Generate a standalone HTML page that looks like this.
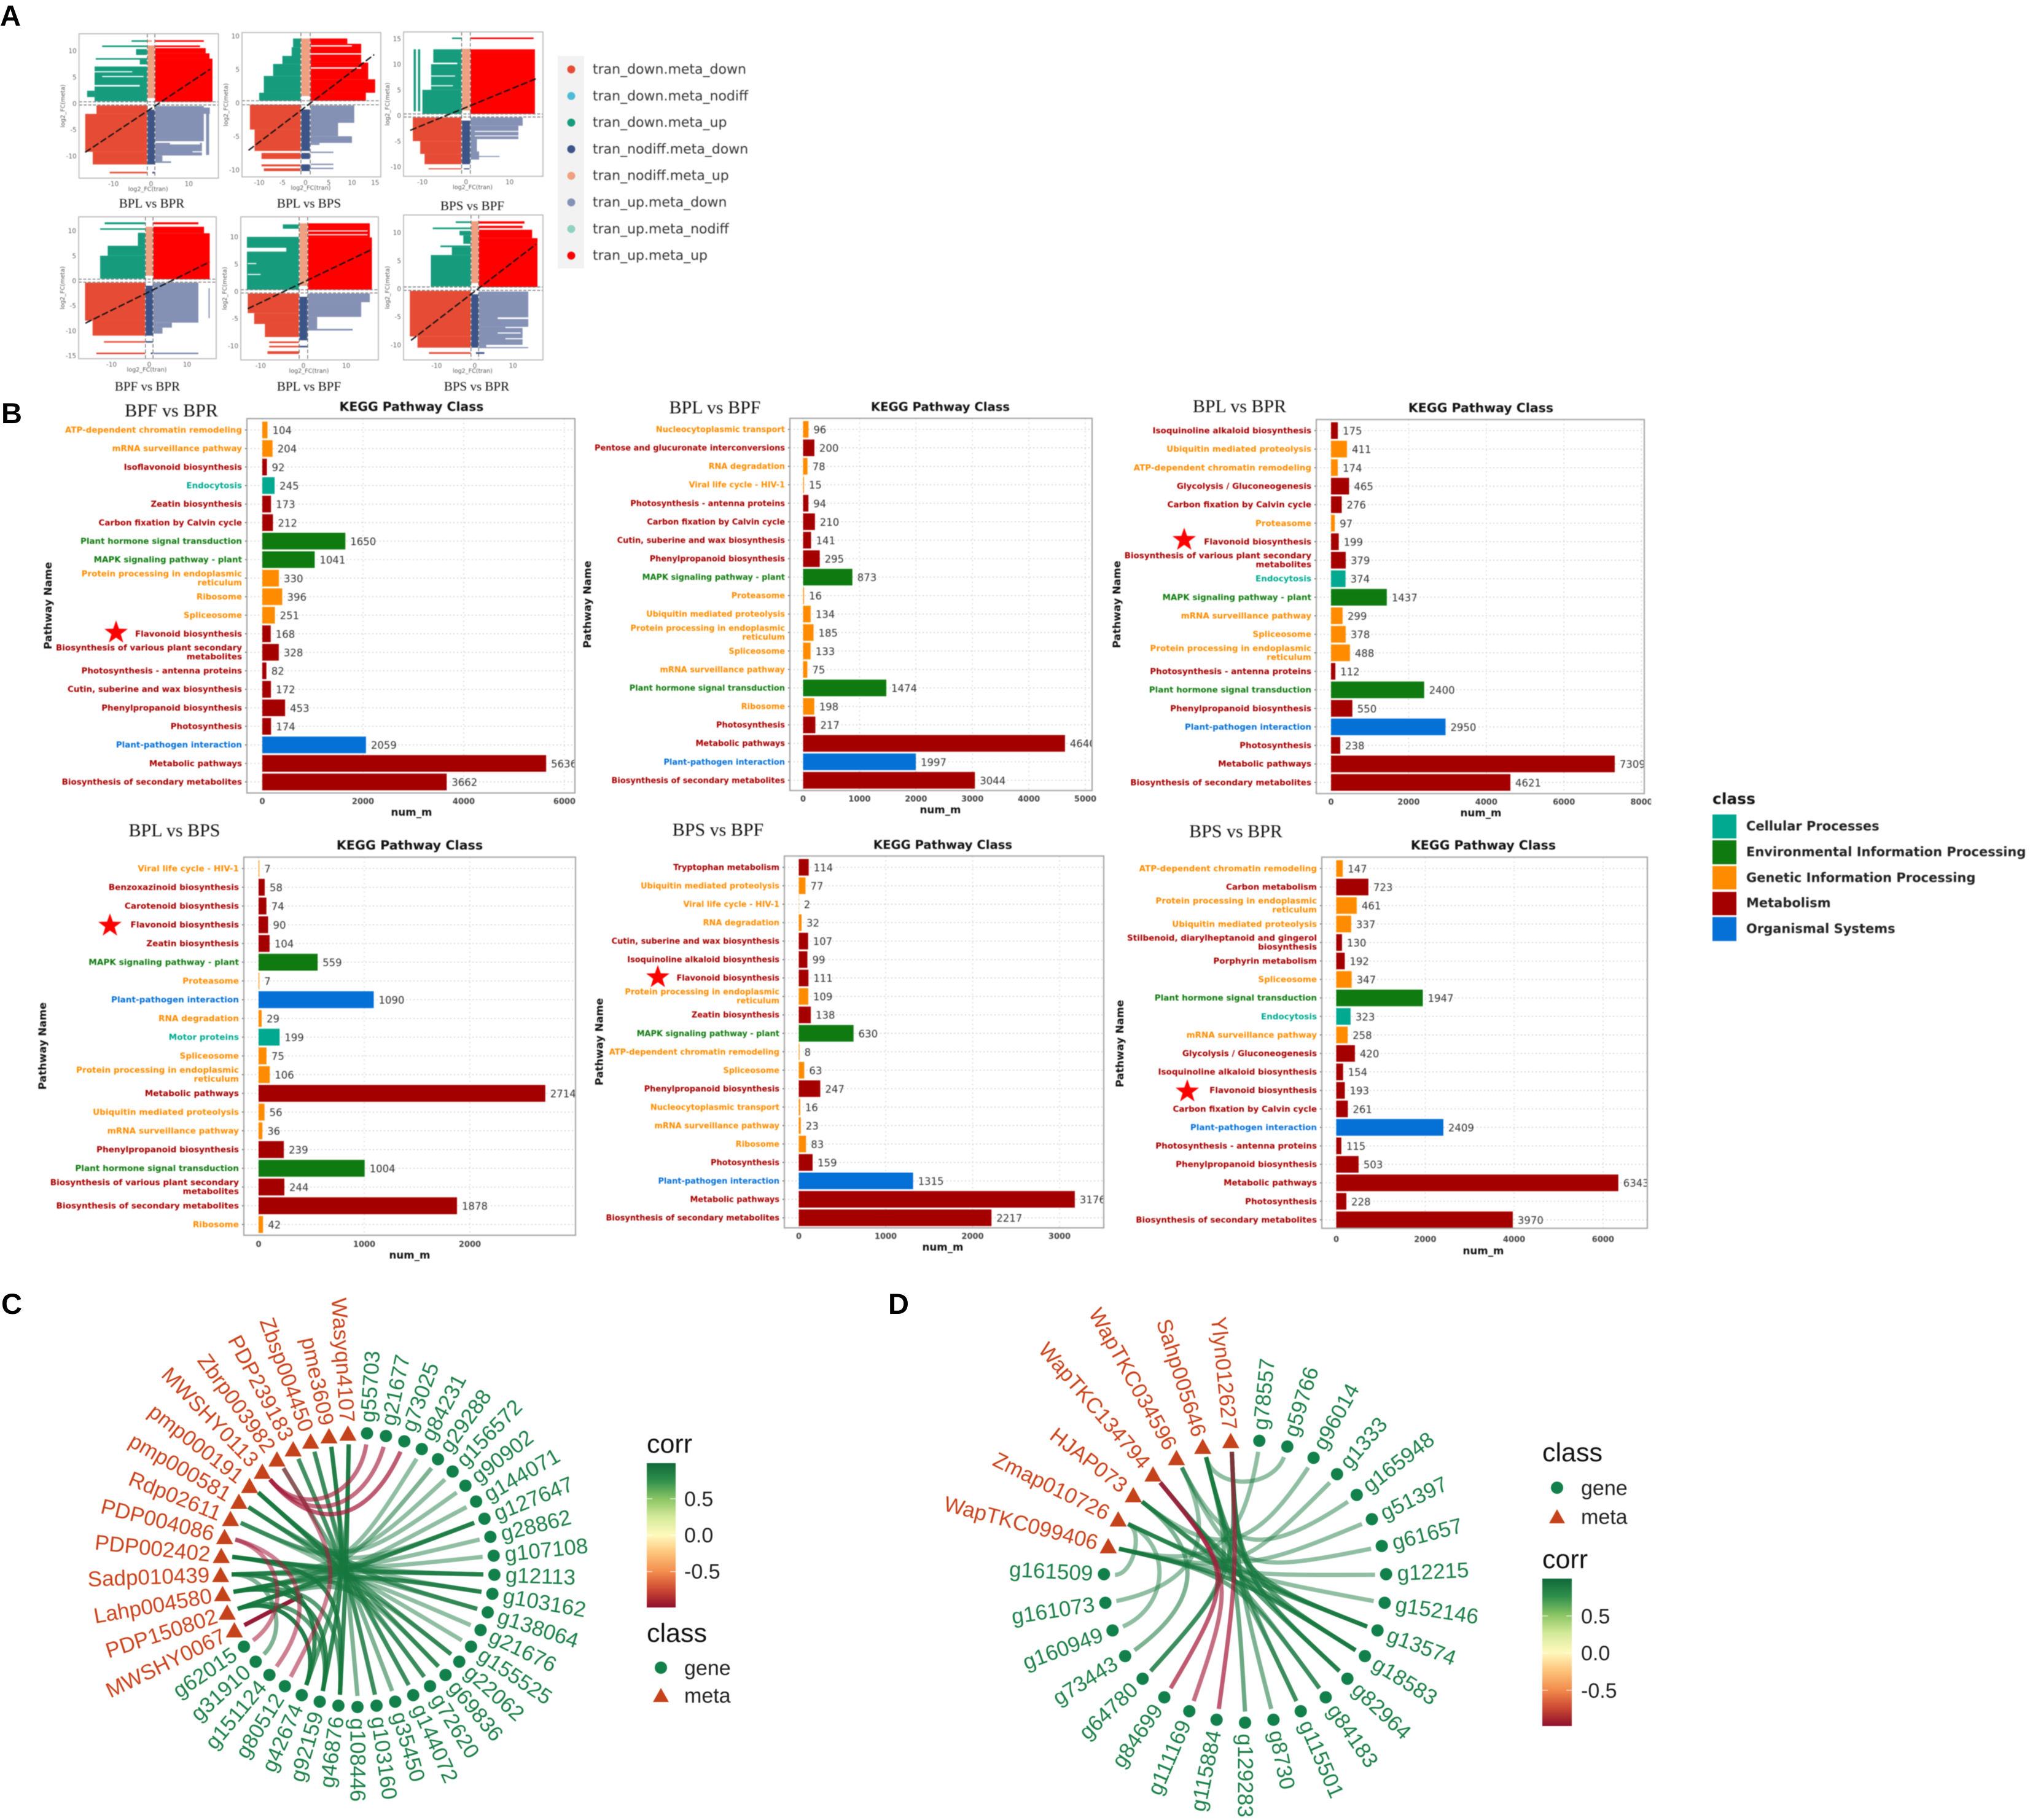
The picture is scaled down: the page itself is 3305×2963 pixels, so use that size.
<!DOCTYPE html>
<html lang="en"><head><meta charset="utf-8"><title>Transcriptome and metabolome association figure</title>
<style>
html,body{margin:0;padding:0;background:#fff}
svg{display:block}
.sans{font-family:"Liberation Sans",sans-serif}
.deja{font-family:"DejaVu Sans",sans-serif}
.serif{font-family:"Liberation Serif",serif}
#panel-a,#panel-b,#kegg-legend{filter:blur(0.9px)}
#panel-c,#panel-d{filter:blur(0.5px)}
</style></head>
<body>
<svg id="fig" xmlns="http://www.w3.org/2000/svg" width="3305" height="2963" viewBox="0 0 3305 2963">
<defs>
<linearGradient id="corr-grad" x1="0" y1="0" x2="0" y2="1">
<stop offset="0" stop-color="#11693a"/><stop offset=".12" stop-color="#2f8f4c"/><stop offset=".25" stop-color="#8cc665"/><stop offset=".37" stop-color="#d3e99a"/><stop offset=".5" stop-color="#fff9bd"/><stop offset=".62" stop-color="#fdc57c"/><stop offset=".75" stop-color="#f38e4e"/><stop offset=".87" stop-color="#cf4d34"/><stop offset="1" stop-color="#8f0f2c"/>
</linearGradient>
</defs>
<rect width="3305" height="2963" fill="#fff"/>
<g class="sans" font-weight="700" font-size="47" fill="#000">
<text x="0" y="42">A</text>
<text x="2" y="689">B</text>
<text x="2" y="2139">C</text>
<text x="1446" y="2139">D</text>
</g>
<g id="panel-a"></g>
<g id="panel-b"></g>
<g id="kegg-legend" class="deja" font-weight="700">
<text x="2788" y="1309" font-size="25" fill="#111">class</text>
<rect x="2788" y="1326" width="39" height="39" fill="#00a98f"/>
<rect x="2788" y="1368" width="39" height="39" fill="#0f7a0f"/>
<rect x="2788" y="1410" width="39" height="38" fill="#ff8c00"/>
<rect x="2788" y="1452" width="39" height="38" fill="#a50000"/>
<rect x="2788" y="1493" width="39" height="39" fill="#0570d6"/>
<g font-size="21" fill="#222">
<text x="2843" y="1352">Cellular Processes</text>
<text x="2843" y="1394">Environmental Information Processing</text>
<text x="2843" y="1436">Genetic Information Processing</text>
<text x="2843" y="1477">Metabolism</text>
<text x="2843" y="1519">Organismal Systems</text>
</g></g>
<g id="panel-c" class="sans">
<text x="1053" y="2365" font-size="43" fill="#111">corr</text>
<rect x="1053" y="2382" width="47" height="235" fill="url(#corr-grad)"/>
<g stroke="#fff" stroke-width="1.5" opacity=".7"><path d="M1053 2440h9M1091 2440h9M1053 2499.5h9M1091 2499.5h9M1053 2558.6h9M1091 2558.6h9"/></g>
<g font-size="34" fill="#222"><text x="1114" y="2452">0.5</text><text x="1114" y="2511">0.0</text><text x="1114" y="2570">-0.5</text></g>
<text x="1053" y="2673" font-size="43" fill="#111">class</text>
<circle cx="1076" cy="2715" r="10" fill="#12804a"/>
<text x="1114" y="2727" font-size="34" fill="#222">gene</text>
<path d="M1076 2748l13 23h-26z" fill="#c5431a"/>
<text x="1114" y="2772" font-size="34" fill="#222">meta</text>
</g>
<g id="panel-d" class="sans">
<text x="2511" y="2379" font-size="43" fill="#111">class</text>
<circle cx="2535" cy="2422" r="10" fill="#12804a"/>
<text x="2574" y="2434" font-size="34" fill="#222">gene</text>
<path d="M2535 2457l13 23h-26z" fill="#c5431a"/>
<text x="2574" y="2481" font-size="34" fill="#222">meta</text>
<text x="2511" y="2553" font-size="43" fill="#111">corr</text>
<rect x="2511" y="2570" width="48" height="240" fill="url(#corr-grad)"/>
<g stroke="#fff" stroke-width="1.5" opacity=".7"><path d="M2511 2630.7h9M2550 2630.7h9M2511 2691.5h9M2550 2691.5h9M2511 2751.7h9M2550 2751.7h9"/></g>
<g font-size="34" fill="#222"><text x="2574" y="2643">0.5</text><text x="2574" y="2703">0.0</text><text x="2574" y="2764">-0.5</text></g>
</g>
</svg>
<script>
/* ---------- Panel A data: quadrant bands [class, xFrom, xTo, yFrom, yTo] in log2FC units ---------- */
const quadrantLabels = ['tran_down.meta_down','tran_down.meta_nodiff','tran_down.meta_up','tran_nodiff.meta_down','tran_nodiff.meta_up','tran_up.meta_down','tran_up.meta_nodiff','tran_up.meta_up'];
const quadrantColors = ['#E64B35','#4DBBD5','#169b7d','#3C5488','#EFA080','#8491B4','#91D1C2','#FF0000'];
const bandBplBpr = [
['uu',1.1,14,11.7,12],['uu',1.1,13,10.7,11],['uu',1.1,14.5,9.5,10.5],['uu',1.1,15.5,8.5,9.5],['uu',1.1,16.3,0.3,8.5],
['du',-5.2,-1.1,11.7,12],['du',-13,-1.1,10.7,11],['du',-4,-1.1,9.2,10.3],['du',-14.7,-1.1,8.3,8.6],['du',-3,-1.1,7.4,8.3],['du',-15,-1.1,0.4,7],['du',-17,-15,1.2,2.4],
['nu',-0.9,0.9,1,11],['nu',-0.9,0.2,11.7,12],
['dd',-14.5,-1.1,-2,-0.4],['dd',-17.5,-1.1,-9.2,-2],['dd',-15.5,-1.1,-11.6,-9.2],['dd',-11,-1.1,-13.3,-13],
['nd',-0.9,0.9,-11.6,-1.2],['nd',0.3,0.9,-13.3,-13],
['ud',1.1,14,-7.2,-0.5],['ud',1.1,15.6,-2,-0.8],['ud',1.1,13.5,-9.9,-7.5],['ud',1.1,3,-11,-9.9],['ud',1.1,5.3,-11.3,-11],['ud',14.6,15.4,-9.8,-1],
['gap',-15,-5,5.9,6.1],['gap',-15,-3,3.2,3.5],['gap',-13,-2,5,5.2],['gap',5,13,-7.8,-7.5],['gap',11,14,-9.3,-9.1]];
const bandBplBps = [
['uu',1.1,9,8.8,9.6],['uu',1.1,12,6,8.8],['uu',1.1,13.5,3.5,6],['uu',1.1,15,1.5,3.5],['uu',1.1,13,0.3,1.5],
['du',-2.7,-1.1,8.3,9.6],['du',-3,-1.1,7,8.3],['du',-5,-1.1,5.8,7],['du',-7,-1.1,4,5.8],['du',-9,-1.1,1.5,4],['du',-10,-1.1,0.3,1.5],
['nu',-0.9,0.9,1,9.6],
['dd',-12,-1.1,-4,-0.3],['dd',-11,-1.1,-7.2,-4],['dd',-9.5,-1.1,-8.4,-7.5],['dd',-9.5,-1.1,-9.5,-9.2],['dd',-9,-1.1,-10.2,-9.8],
['nd',-0.9,0.9,-7.2,-1],['nd',-0.9,0.9,-8.4,-7.5],['nd',-0.9,0.9,-10.2,-9.2],
['ud',1.1,10.5,-3,-0.4],['ud',1.1,7,-5,-3],['ud',1.1,10,-6,-5],['ud',1.1,3,-6.3,-6],['ud',1.1,6,-7.5,-7.3],['ud',1.1,6,-9.3,-9.1],['ud',1.1,6,-9.9,-9.7],
['gap',1.1,12,5.1,5.3],['gap',1.1,12,7.2,7.4],['gap',1.1,10,8.4,8.6]];
const bandBpsBpf = [
['uu',1.1,15.5,14.9,15.2],['uu',1.1,15.8,0.3,12.9],
['du',-3.2,-1.1,14.9,15.2],['du',-7.5,-1.1,10.2,12.9],['du',-8,-1.1,5,10.2],['du',-10,-1.1,0.3,5],['du',-12,-11.5,0.8,12.9],['du',-11,-10.5,0.8,12.9],
['nu',-0.9,0.9,1,13],
['dd',-12.2,-1.1,-5,-0.4],['dd',-10.5,-1.1,-7.5,-5],['dd',-9.5,-1.1,-9.5,-7.5],['dd',-8.6,-1.1,-10.5,-10.3],
['nd',-0.9,0.9,-9.5,-1],['nd',-0.5,0.8,-10.5,-10.3],
['ud',1.1,13,-2,-0.4],['ud',1.1,12,-4.6,-2],['ud',1.1,2.5,-7,-4.6],['ud',1.1,7.7,-8.1,-7.9],['ud',1.1,3,-8.6,-7],
['gap',-8,-2,10,10.3],['gap',-8,-2.5,7.6,7.8],['gap',-8,-3,5.7,5.9],['gap',2,12,-3.2,-3],['gap',2,12,-4,-3.9]];
const bandBpfBpr = [
['uu',1.1,13,11.3,11.7],['uu',1.1,14.5,9.5,10.8],['uu',1.1,16,0.3,9.5],
['du',-11.8,-1.1,11.3,11.7],['du',-13,-1.1,10.2,10.5],['du',-3,-1.1,7,9.6],['du',-11,-1.1,5,7],['du',-13,-1.1,0.4,5],
['nu',-0.9,0.9,1,10.8],
['dd',-17,-1.1,-8,-0.4],['dd',-15,-1.1,-11,-8],['dd',-12,-1.1,-12.4,-12.1],['dd',-14,-1.1,-14.7,-14.4],
['nd',-0.9,0.9,-11,-1],['nd',-0.9,0.9,-12.4,-12.1],['nd',0.4,0.9,-14.7,-14.4],
['ud',1.1,13,-8.4,-0.4],['ud',1.1,6,-9.4,-8.4],['ud',1.1,3.5,-10.6,-9.4],['ud',1.1,13,-14.7,-14.4],['ud',15.7,16,-7.5,-1.5]];
const bandBplBpf = [
['uu',1.1,15.5,9.9,12.5],['uu',1.1,16,0.3,9.9],
['du',-4.8,-1.1,11.5,12.3],['du',-13.2,-1.1,0.3,10],
['nu',-0.9,0.9,1,12.5],
['dd',-13,-1.1,-4,-0.4],['dd',-11.5,-1.1,-6,-4],['dd',-9,-1.1,-8.4,-6],['dd',-8,-1.1,-9.5,-9.2],['dd',-8,-1.1,-10.3,-10],['dd',-8.4,-1.1,-11.5,-11],
['nd',-0.9,0.9,-9,-1],['nd',-0.9,0.9,-10.3,-10],
['ud',1.1,15.5,-2,-0.4],['ud',1.1,13.5,-4.7,-2],['ud',1.1,3.2,-7,-4.7],['ud',1.1,11.5,-7.2,-6.9],
['gap',1.1,15,11,11.2],['gap',1.1,15,10.3,10.5],['gap',-13.2,-4,7.3,8],['gap',-13,-10,3,3.2],['gap',-13,-11,5,5.2]];
const bandBpsBpr = [
['uu',1.1,13,11.6,12],['uu',1.1,12.5,10.8,11.2],['uu',1.1,15,9,10.5],['uu',1.1,16.4,0.3,9],
['du',-5,-1.1,11.7,12],['du',-11,-1.1,10.6,10.9],['du',-4,-1.1,9.5,10.3],['du',-3,-1.1,8,9.5],['du',-9,-1.1,7.4,7.7],['du',-6,-1.1,6,7.4],['du',-11.5,-1.1,0.4,6],
['nu',-0.9,0.9,1,12],
['dd',-17,-1.1,-8.5,-0.4],['dd',-15,-1.1,-10.5,-8.5],['dd',-12,-1.1,-11.6,-11.3],
['nd',-0.9,0.9,-10.5,-1],['nd',0.3,2.5,-11.6,-11.3],
['ud',1.1,14,-6.8,-0.5],['ud',1.1,12.5,-10,-6.8],['ud',1.1,3,-10.5,-10],['ud',1.1,14,-10.6,-10.4],
['gap',6,14,-5.4,-5.1],['gap',8,14,-7,-6.8],['gap',6,12,-8,-7.8],['gap',8,13,-9,-8.8]];
const titlesA = ['BPL vs BPR','BPL vs BPS','BPS vs BPF','BPF vs BPR','BPL vs BPF','BPS vs BPR'];
const xTicksA = [[-10,0,10],[-10,-5,0,5,10,15],[-10,0,10],[-10,0,10],[-10,0,10],[-10,0,10]];
const yTicksA = [[-10,-5,0,5,10],[-10,-5,0,5,10],[-10,-5,0,5,10,15],[-15,-10,-5,0,5,10],[-10,-5,0,5,10],[-10,-5,0,5,10]];
const diagonalsA = [[-17.5,-9.3,15.7,6.5],[-12.3,-7.1,14.8,7.2],[-12.8,-2.9,16,7.15],[-16.9,-8.5,16,3.76],[-13,-3.2,16,7.7],[-16.7,-9.2,16,7.9]];

/* ---------- Panel B data ---------- */
const bpfBprCategories = ['ATP-dependent chromatin remodeling','mRNA surveillance pathway','Isoflavonoid biosynthesis','Endocytosis','Zeatin biosynthesis','Carbon fixation by Calvin cycle','Plant hormone signal transduction','MAPK signaling pathway - plant','Protein processing in endoplasmic|reticulum','Ribosome','Spliceosome','Flavonoid biosynthesis','Biosynthesis of various plant secondary|metabolites','Photosynthesis - antenna proteins','Cutin, suberine and wax biosynthesis','Phenylpropanoid biosynthesis','Photosynthesis','Plant-pathogen interaction','Metabolic pathways','Biosynthesis of secondary metabolites'];
const bpfBprValues = [104,204,92,245,173,212,1650,1041,330,396,251,168,328,82,172,453,174,2059,5636,3662];
const bpfBprClasses = 'GGMCMMEEGGGMMMMMMOMM';
const bpfBprTicks = [0,2000,4000,6000];
const bplBpfCategories = ['Nucleocytoplasmic transport','Pentose and glucuronate interconversions','RNA degradation','Viral life cycle - HIV-1','Photosynthesis - antenna proteins','Carbon fixation by Calvin cycle','Cutin, suberine and wax biosynthesis','Phenylpropanoid biosynthesis','MAPK signaling pathway - plant','Proteasome','Ubiquitin mediated proteolysis','Protein processing in endoplasmic|reticulum','Spliceosome','mRNA surveillance pathway','Plant hormone signal transduction','Ribosome','Photosynthesis','Metabolic pathways','Plant-pathogen interaction','Biosynthesis of secondary metabolites'];
const bplBpfValues = [96,200,78,15,94,210,141,295,873,16,134,185,133,75,1474,198,217,4640,1997,3044];
const bplBpfClasses = 'GMGGMMMMEGGGGGEGMMOM';
const bplBpfTicks = [0,1000,2000,3000,4000,5000];
const bplBprCategories = ['Isoquinoline alkaloid biosynthesis','Ubiquitin mediated proteolysis','ATP-dependent chromatin remodeling','Glycolysis / Gluconeogenesis','Carbon fixation by Calvin cycle','Proteasome','Flavonoid biosynthesis','Biosynthesis of various plant secondary|metabolites','Endocytosis','MAPK signaling pathway - plant','mRNA surveillance pathway','Spliceosome','Protein processing in endoplasmic|reticulum','Photosynthesis - antenna proteins','Plant hormone signal transduction','Phenylpropanoid biosynthesis','Plant-pathogen interaction','Photosynthesis','Metabolic pathways','Biosynthesis of secondary metabolites'];
const bplBprValues = [175,411,174,465,276,97,199,379,374,1437,299,378,488,112,2400,550,2950,238,7309,4621];
const bplBprClasses = 'MGGMMGMMCEGGGMEMOMMM';
const bplBprTicks = [0,2000,4000,6000,8000];
const bplBpsCategories = ['Viral life cycle - HIV-1','Benzoxazinoid biosynthesis','Carotenoid biosynthesis','Flavonoid biosynthesis','Zeatin biosynthesis','MAPK signaling pathway - plant','Proteasome','Plant-pathogen interaction','RNA degradation','Motor proteins','Spliceosome','Protein processing in endoplasmic|reticulum','Metabolic pathways','Ubiquitin mediated proteolysis','mRNA surveillance pathway','Phenylpropanoid biosynthesis','Plant hormone signal transduction','Biosynthesis of various plant secondary|metabolites','Biosynthesis of secondary metabolites','Ribosome'];
const bplBpsValues = [7,58,74,90,104,559,7,1090,29,199,75,106,2714,56,36,239,1004,244,1878,42];
const bplBpsClasses = 'GMMMMEGOGCGGMGGMEMMG';
const bplBpsTicks = [0,1000,2000];
const bpsBpfCategories = ['Tryptophan metabolism','Ubiquitin mediated proteolysis','Viral life cycle - HIV-1','RNA degradation','Cutin, suberine and wax biosynthesis','Isoquinoline alkaloid biosynthesis','Flavonoid biosynthesis','Protein processing in endoplasmic|reticulum','Zeatin biosynthesis','MAPK signaling pathway - plant','ATP-dependent chromatin remodeling','Spliceosome','Phenylpropanoid biosynthesis','Nucleocytoplasmic transport','mRNA surveillance pathway','Ribosome','Photosynthesis','Plant-pathogen interaction','Metabolic pathways','Biosynthesis of secondary metabolites'];
const bpsBpfValues = [114,77,2,32,107,99,111,109,138,630,8,63,247,16,23,83,159,1315,3176,2217];
const bpsBpfClasses = 'MGGGMMMGMEGGMGGGMOMM';
const bpsBpfTicks = [0,1000,2000,3000];
const bpsBprCategories = ['ATP-dependent chromatin remodeling','Carbon metabolism','Protein processing in endoplasmic|reticulum','Ubiquitin mediated proteolysis','Stilbenoid, diarylheptanoid and gingerol|biosynthesis','Porphyrin metabolism','Spliceosome','Plant hormone signal transduction','Endocytosis','mRNA surveillance pathway','Glycolysis / Gluconeogenesis','Isoquinoline alkaloid biosynthesis','Flavonoid biosynthesis','Carbon fixation by Calvin cycle','Plant-pathogen interaction','Photosynthesis - antenna proteins','Phenylpropanoid biosynthesis','Metabolic pathways','Photosynthesis','Biosynthesis of secondary metabolites'];
const bpsBprValues = [147,723,461,337,130,192,347,1947,323,258,420,154,193,261,2409,115,503,6343,228,3970];
const bpsBprClasses = 'GMGGMMGECGMMMMOMMMMM';
const bpsBprTicks = [0,2000,4000,6000];

/* ---------- Panels C and D data ---------- */
const genesC = ['g55703','g21677','g73025','g84231','g29288','g156572','g90902','g144071','g127647','g28862','g107108','g12113','g103162','g138064','g21676','g155525','g22062','g69836','g72620','g144072','g35450','g103160','g108446','g46876','g92159','g42674','g80512','g151124','g31910','g62015'];
const metasC = ['MWSHY0067','PDP150802','Lahp004580','Sadp010439','PDP002402','PDP004086','Rdp02611','pmp000581','pmp000191','MWSHY0113','Zbrp003982','PDP239183','Zbsp004450','pme3609','Wasyqn4107'];
const edgeGeneC = ['g107108','g84231','g29288','g156572','g90902','g144071','g127647','g28862','g107108','g12113','g103162','g138064','g21676','g155525','g22062','g69836','g72620','g144072','g35450','g103160','g108446','g46876','g92159','g42674','g31910','g92159','g42674','g46876','g127647','g12113','g103162','g138064','g22062','g69836','g72620','g144072','g103160','g46876','g92159','g42674','g127647','g12113','g103162','g55703','g21677','g73025','g80512','g151124','g62015'];
const edgeMetaC = ['MWSHY0067','Sadp010439','Lahp004580','Rdp02611','pmp000581','PDP150802','PDP150802','Sadp010439','PDP002402','PDP002402','Lahp004580','pmp000191','PDP002402','Rdp02611','pmp000581','pmp000191','pmp000191','Zbrp003982','PDP239183','Zbsp004450','pme3609','Wasyqn4107','pme3609','PDP150802','Sadp010439','Lahp004580','Sadp010439','PDP002402','Lahp004580','Sadp010439','PDP150802','PDP002402','Lahp004580','PDP150802','Sadp010439','Zbsp004450','PDP239183','Lahp004580','PDP150802','Wasyqn4107','Rdp02611','pmp000581','pmp000191','MWSHY0113','MWSHY0113','MWSHY0113','Zbrp003982','PDP004086','PDP004086'];
const edgeCorrC = [-0.95,0.65,0.7,0.65,0.65,0.65,0.85,0.65,0.65,0.85,0.8,0.8,0.65,0.65,0.8,0.8,0.75,0.75,0.7,0.75,0.7,0.9,0.9,0.95,0.7,0.9,0.9,0.9,0.7,0.7,0.7,0.7,0.7,0.7,0.7,0.7,0.7,0.8,0.8,0.8,0.65,0.65,0.65,-0.75,-0.75,-0.8,-0.7,-0.7,-0.7];
const genesD = ['g78557','g59766','g96014','g1333','g165948','g51397','g61657','g12215','g152146','g13574','g18583','g82964','g84183','g115501','g8730','g129283','g115884','g111169','g84699','g64780','g73443','g160949','g161073','g161509'];
const metasD = ['WapTKC099406','Zmap010726','HJAP073','WapTKC134794','WapTKC034596','Sahp005646','Ylyn012627'];
const edgeGeneD = ['g78557','g59766','g96014','g1333','g165948','g51397','g61657','g12215','g152146','g13574','g18583','g82964','g84183','g115501','g8730','g129283','g64780','g73443','g160949','g161073','g161509','g13574','g18583','g82964','g84183','g115501','g64780','g13574','g18583','g115884','g111169','g84699'];
const edgeMetaD = ['WapTKC099406','Sahp005646','HJAP073','WapTKC099406','WapTKC034596','Zmap010726','WapTKC034596','WapTKC099406','Zmap010726','WapTKC134794','HJAP073','WapTKC134794','WapTKC099406','Sahp005646','Ylyn012627','Sahp005646','Ylyn012627','HJAP073','Zmap010726','WapTKC034596','Zmap010726','Zmap010726','WapTKC099406','Ylyn012627','HJAP073','WapTKC134794','Sahp005646','Sahp005646','Ylyn012627','Ylyn012627','WapTKC134794','WapTKC134794'];
const edgeCorrD = [0.65,0.65,0.65,0.65,0.65,0.65,0.65,0.65,0.65,0.8,0.8,0.8,0.75,0.75,0.7,0.75,0.75,0.7,0.65,0.65,0.65,0.8,0.85,0.85,0.7,0.7,0.7,0.8,0.8,-0.8,-0.75,-0.8];

/* ---------- helpers ---------- */
const SVGNS = 'http://www.w3.org/2000/svg';
function make(tag, parent, props) {
  const el = document.createElementNS(SVGNS, tag);
  for (const k in props) el.setAttribute(k, props[k]);
  parent.appendChild(el);
  return el;
}
const panelA = document.getElementById('panel-a');
const panelB = document.getElementById('panel-b');

/* ---------- Panel A ---------- */
const scatterColor = {dd:'#E64B35',du:'#169b7d',nd:'#3C5488',nu:'#EFA080',ud:'#8491B4',uu:'#FF0000',gap:'#FFFFFF'};
const frameA = [
 {l:128.7,r:355.7,t:55,b:290,xz:246,sx:6.13,yz:168.3,sy:8.57,tx:247,ty:331},
 {l:394,r:620,t:53,b:288,xz:497.5,sx:7.55,yz:167.3,sy:10.9,tx:503,ty:331},
 {l:657,r:884,t:52,b:287,xz:758.7,sx:7.1,yz:188,sy:8.35,tx:769,ty:335},
 {l:128,r:352,t:353,b:584,xz:243,sx:6.15,yz:457,sy:8.13,tx:240,ty:629},
 {l:392,r:616,t:353,b:586,xz:494,sx:6.97,yz:474.3,sy:8.86,tx:503,ty:629},
 {l:657,r:884,t:350,b:586,xz:773,sx:6.22,yz:470,sy:9.14,tx:776,ty:629}];
const bandsA = [bandBplBpr,bandBplBps,bandBpsBpf,bandBpfBpr,bandBplBpf,bandBpsBpr];
frameA.forEach(function(f, p) {
  const g = make('g', panelA, {});
  
  
  const xs = function(v){ return f.xz + f.sx * v; };
  const ys = function(v){ return f.yz - f.sy * v; };
  bandsA[p].forEach(function(b) {
    const r = make('rect', g, {x:xs(b[1]), y:ys(b[4]), width:f.sx*(b[2]-b[1]), height:Math.max(1.5,f.sy*(b[4]-b[3])), fill:scatterColor[b[0]]});
    
    
  });
  [-0.3,0.3].forEach(function(v) {
    const h = make('line', g, {x1:f.l, x2:f.r, y1:ys(v), y2:ys(v), stroke:'#777', 'stroke-width':1.4, 'stroke-dasharray':'5 2.5'});
    
    
  });
  [-1,1].forEach(function(v) {
    const vl = make('line', g, {x1:xs(v), x2:xs(v), y1:f.t, y2:f.b, stroke:'#444', 'stroke-width':1, 'stroke-dasharray':'6 3'});
    
    
  });
  const d = diagonalsA[p];
  const dl = make('line', g, {x1:xs(d[0]), y1:ys(d[1]), x2:xs(d[2]), y2:ys(d[3]), stroke:'#111', 'stroke-width':2.2, 'stroke-dasharray':'11 4'});
  
  
  const fr = make('rect', g, {x:f.l, y:f.t, width:f.r-f.l, height:f.b-f.t, fill:'none', stroke:'#b5b5b5', 'stroke-width':1.6});
  
  
  xTicksA[p].forEach(function(v) {
    const t = make('text', g, {x:xs(v), y:f.b+13, 'font-size':10.5, 'text-anchor':'middle', fill:'#666', class:'deja'});
    
    
    t.textContent = v;
  });
  yTicksA[p].forEach(function(v) {
    const t = make('text', g, {x:f.l-4, y:ys(v)+4, 'font-size':10.5, 'text-anchor':'end', fill:'#666', class:'deja'});
    
    
    t.textContent = v;
  });
  const xl = make('text', g, {x:(f.l+f.r)/2-1, y:f.b+21, 'font-size':9.6, 'text-anchor':'middle', fill:'#555', class:'deja'});
  
  
  xl.textContent = 'log2_FC(tran)';
  const cy = (f.t+f.b)/2;
  const yl = make('text', g, {x:f.l-23, y:cy, 'font-size':9.6, 'text-anchor':'middle', fill:'#555', class:'deja', transform:'rotate(-90 '+(f.l-23)+' '+cy+')'});
  
  
  yl.textContent = 'log2_FC(meta)';
  const tt = make('text', g, {x:f.tx, y:f.ty+7, 'font-size':21, 'text-anchor':'middle', fill:'#111', class:'serif'});
  
  
  tt.textContent = titlesA[p];
});
const legendBox = make('rect', panelA, {x:908, y:91, width:43, height:346, fill:'#f2f2f2'});


quadrantLabels.forEach(function(label, i) {
  const y = 113 + i * 43.3;
  const c = make('circle', panelA, {cx:930, cy:y, r:6.5, fill:quadrantColors[i]});
  
  
  const t = make('text', panelA, {x:965, y:y+7, 'font-size':22, fill:'#333', class:'deja'});
  
  
  t.textContent = label;
});

/* ---------- Panel B ---------- */
const classColor = {C:'#00a98f',E:'#0f7a0f',G:'#ff8c00',M:'#a50000',O:'#0570d6'};
const barPanels = [
 {title:'BPF vs BPR',fs:1.085,cats:bpfBprCategories,vals:bpfBprValues,cls:bpfBprClasses,ticks:bpfBprTicks,l:402,r:936,t:681.5,b:1291,x0:427,k:0.082,y0:700,pitch:30.16,kx:670,ky:662,cx:279,cy:668,px:78,py:986,ny:1322,tk:1304,star:[189,1028]},
 {title:'BPL vs BPF',fs:1.045,cats:bplBpfCategories,vals:bplBpfValues,cls:bplBpfClasses,ticks:bplBpfTicks,l:1286,r:1778,t:681,b:1287,x0:1307.5,k:0.0919,y0:699,pitch:30.07,kx:1531,ky:662,cx:1164,cy:663,px:956,py:984,ny:1318,tk:1300,star:null},
 {title:'BPL vs BPR',fs:1.09,cats:bplBprCategories,vals:bplBprValues,cls:bplBprClasses,ticks:bplBprTicks,l:2143,r:2677,t:683,b:1292,x0:2167,k:0.0632,y0:701,pitch:30.15,kx:2411,ky:664,cx:2018,cy:661,px:1818,py:984,ny:1323,tk:1305,star:[1928,877],tickClip:2688},
 {title:'BPL vs BPS',fs:1.1,cats:bplBpsCategories,vals:bplBpsValues,cls:bplBpsClasses,ticks:bplBpsTicks,l:397,r:937,t:1395.5,b:2011,x0:421,k:0.172,y0:1414,pitch:30.5,kx:667,ky:1376,cx:284,cy:1351.5,px:69,py:1703,ny:2043,tk:2025,star:[179,1505]},
 {title:'BPS vs BPF',fs:1.045,cats:bpsBpfCategories,vals:bpsBpfValues,cls:bpsBpfClasses,ticks:bpsBpfTicks,l:1277,r:1797,t:1393.6,b:1999,x0:1300.5,k:0.1415,y0:1412,pitch:30.03,kx:1535,ky:1375,cx:1169,cy:1350.6,px:975.6,py:1696,ny:2030,tk:2012,star:[1071,1589]},
 {title:'BPS vs BPR',fs:1.09,cats:bpsBprCategories,vals:bpsBprValues,cls:bpsBprClasses,ticks:bpsBprTicks,l:2152,r:2682,t:1395.5,b:1999.7,x0:2175.5,k:0.0724,y0:1414,pitch:30.1,kx:2415,ky:1376,cx:2012,cy:1353,px:1823,py:1699,ny:2036,tk:2017,star:[1933,1775]}];
barPanels.forEach(function(p, idx) {
  const g = make('g', panelB, {class:'deja'});
  
  
  const xs = function(v){ return p.x0 + p.k * v; };
  const ys = function(i){ return p.y0 + p.pitch * i; };
  const clip = make('clipPath', g, {id:'frame-clip-'+idx});
  make('rect', clip, {x:p.l, y:p.t, width:p.r-p.l, height:p.b-p.t});
  const tclip = make('clipPath', g, {id:'tick-clip-'+idx});
  make('rect', tclip, {x:p.l-40, y:p.b, width:(p.tickClip || 3305)-p.l+40, height:60});
  p.ticks.forEach(function(v) {
    const gl = make('line', g, {x1:xs(v), x2:xs(v), y1:p.t, y2:p.b, stroke:'#d8d8d8', 'stroke-width':1.6, 'stroke-dasharray':'2 5', 'clip-path':'url(#frame-clip-'+idx+')'});
    
    
  });
  p.cats.forEach(function(name, i) {
    const y = ys(i);
    const rl = make('line', g, {x1:p.l, x2:p.r, y1:y, y2:y, stroke:'#d0d0d0', 'stroke-width':1.6, 'stroke-dasharray':'2 4'});
    
    
    const col = classColor[p.cls[i]];
    const bar = make('rect', g, {x:xs(0), y:y-p.pitch*0.45, width:p.k*p.vals[i], height:p.pitch*0.9, fill:col});
    
    
    const val = make('text', g, {x:xs(p.vals[i])+8, y:y+6.5, 'font-size':16.5, fill:'#333', 'clip-path':'url(#frame-clip-'+idx+')'});
    
    
    val.textContent = p.vals[i];
    const tick = make('line', g, {x1:p.l-3, x2:p.l, y1:y, y2:y, stroke:'#555', 'stroke-width':1.5});
    
    
    const parts = name.split('|');
    parts.forEach(function(line, j) {
      const ly = y + 4.5 + (parts.length > 1 ? (j === 0 ? -7.5 : 7) : 0);
      const lab = make('text', g, {x:p.l-8, y:ly, 'font-size':12.4*p.fs, 'font-weight':700, 'text-anchor':'end', fill:col});
      
      
      lab.textContent = line;
    });
  });
  p.ticks.forEach(function(v) {
    const t = make('text', g, {x:xs(v), y:p.tk+5, 'font-size':13, 'font-weight':700, 'text-anchor':'middle', fill:'#444', 'clip-path':'url(#tick-clip-'+idx+')'});
    
    
    t.textContent = v;
  });
  const fr = make('rect', g, {x:p.l, y:p.t, width:p.r-p.l, height:p.b-p.t, fill:'none', stroke:'#a8a8a8', 'stroke-width':2.2});
  
  
  const kt = make('text', g, {x:p.kx, y:p.ky+7, 'font-size':18.8*p.fs, 'font-weight':700, 'text-anchor':'middle', fill:'#111'});
  
  
  kt.textContent = 'KEGG Pathway Class';
  const ct = make('text', g, {x:p.cx, y:p.cy+10, 'font-size':30, 'text-anchor':'middle', fill:'#111', class:'serif'});
  
  
  ct.textContent = p.title;
  const nm = make('text', g, {x:p.kx, y:p.ny+6, 'font-size':16.7, 'font-weight':700, 'text-anchor':'middle', fill:'#111'});
  
  
  nm.textContent = 'num_m';
  const pn = make('text', g, {x:p.px+6, y:p.py, 'font-size':17, 'font-weight':700, 'text-anchor':'middle', fill:'#111', transform:'rotate(-90 '+(p.px+6)+' '+p.py+')'});
  
  
  pn.textContent = 'Pathway Name';
  if (p.star) {
    let pts = '';
    for (let s = 0; s < 10; s++) {
      const rad = s % 2 ? 8 : 20;
      const a = -Math.PI/2 + s * Math.PI/5;
      pts += (p.star[0] + rad*Math.cos(a)) + ',' + (p.star[1] + 2 + rad*Math.sin(a)) + ' ';
    }
    const st = make('polygon', g, {points:pts, fill:'#ff0000'});
    
    
  }
});

/* ---------- Panels C and D ---------- */
function corrColor(c) {
  return c > 0 ? '#17783f' : (c < -0.9 ? '#8f0f2c' : '#a51c3c');
}
function corrOpacity(c) {
  return Math.min(0.95, 0.4 + (Math.abs(c) - 0.6) * 1.6);
}
function drawNetwork(parent, genes, metas, edgeGene, edgeMeta, edgeCorr, cx, cy, R, hx, hy) {
  const names = genes.concat(metas);
  const step = 360 / names.length;
  const angle = function(i){ return step / 2 + step * i; };
  const pt = function(i, r){ const t = angle(i) * Math.PI / 180; return [cx + r * Math.sin(t), cy - r * Math.cos(t)]; };
  edgeGene.forEach(function(g, e) {
    const ia = names.indexOf(g);
    const ib = names.indexOf(edgeMeta[e]);
    const a = pt(ia, R - 18);
    const b = pt(ib, R - 18);
    let span = Math.abs(angle(ia) - angle(ib));
    if (span > 180) span = 360 - span;
    const f = Math.max(0.03, (100 - span) / 90);
    const c1x = hx + f * (a[0] - hx), c1y = hy + f * (a[1] - hy);
    const c2x = hx + f * (b[0] - hx), c2y = hy + f * (b[1] - hy);
    const path = make('path', parent, {d:'M'+a[0]+' '+a[1]+'C'+c1x+' '+c1y+' '+c2x+' '+c2y+' '+b[0]+' '+b[1], fill:'none', stroke:corrColor(edgeCorr[e]), 'stroke-width':7, 'stroke-opacity':corrOpacity(edgeCorr[e])});
    if (edgeCorr[e] < -0.9) {
      path.setAttribute('pathLength', '1');
      path.setAttribute('stroke-dasharray', '0 0.74 0.26 0');
    }
    
    
  });
  names.forEach(function(name, i) {
    const isGene = i < genes.length;
    const p = pt(i, R);
    let mark;
    if (isGene) {
      mark = make('circle', parent, {cx:p[0], cy:p[1], r:10, fill:'#12804a'});
      
    } else {
      mark = make('path', parent, {d:'M'+p[0]+' '+(p[1]-13)+'l14 25h-28z', fill:'#c5431a'});
      
    }
    
    const q = pt(i, R + 18);
    const deg = angle(i);
    const left = deg > 180.01;
    const rot = left ? deg + 90 : deg - 90;
    const t = make('text', parent, {x:q[0], y:q[1], 'font-size':35, 'dominant-baseline':'central', 'text-anchor':left ? 'end' : 'start', fill:isGene ? '#1c7f48' : '#c8431c', transform:'rotate('+rot+' '+q[0]+' '+q[1]+')'});
    
    
    t.textContent = name;
  });
}
drawNetwork(document.getElementById('panel-c'), genesC, metasC, edgeGeneC, edgeMetaC, edgeCorrC, 582, 2556, 223, 564, 2558);
drawNetwork(document.getElementById('panel-d'), genesD, metasD, edgeGeneD, edgeMetaD, edgeCorrD, 2027, 2574.5, 230, 2014, 2565);
</script>
</body></html>
